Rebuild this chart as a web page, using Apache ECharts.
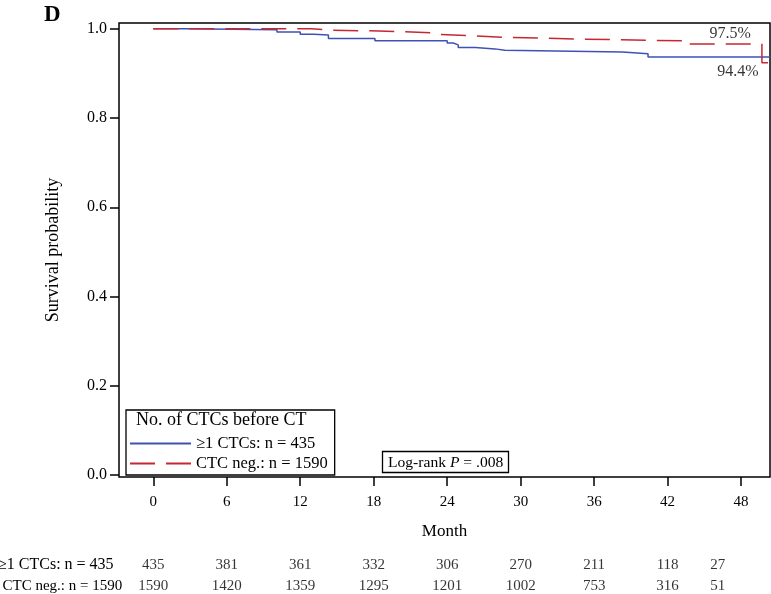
<!DOCTYPE html>
<html>
<head>
<meta charset="utf-8">
<script src="https://cdn.jsdelivr.net/npm/echarts@6/dist/echarts.min.js"></script>
<style>
html,body{margin:0;padding:0;background:#fff;}
#c{width:771px;height:594px;}
</style>
</head>
<body>
<div id="c"></div>
<script>
// ---- data ----
var seriesNames = ['\u22651 CTCs: n = 435', 'CTC neg.: n = 1590'];
// Kaplan-Meier steps [month, survival]
var kmPos = [[0,1.0],[2.6,0.998],[10.1,0.993],[12.0,0.988],[13.1,0.986],[14.3,0.978],[18.1,0.973],
  [24.0,0.968],[24.5,0.964],[24.9,0.958],[26.3,0.955],[27.9,0.952],[28.7,0.948],[38.3,0.944],[40.4,0.937],[50.4,0.937]];
var kmNeg = [[0,1.0],[12.9,0.997],[14.4,0.995],[18.4,0.991],[23.0,0.987],[23.5,0.985],[25.7,0.981],
  [28.5,0.977],[34.9,0.973],[43.2,0.966],[49.7,0.924],[50.4,0.924]];
var xTicks = [0,6,12,18,24,30,36,42,48];
var yTicks = [0,0.2,0.4,0.6,0.8,1.0];
var riskMonths = [0,6,12,18,24,30,36,42,46.1];
var riskPos = [435,381,361,332,306,270,211,118,27];
var riskNeg = [1590,1420,1359,1295,1201,1002,753,316,51];
var endLabels = [[47.1,0.988,'97.5%'],[47.75,0.903,'94.4%']];
var panelLabel = 'D';
var legendTitle = 'No. of CTCs before CT';
var pText = '.008';

var FONT = '"Liberation Serif","Times New Roman",serif';
var BLUE = '#3F51B5', RED = '#C62832';
var XMIN = -2.8, XMAX = 50.36, YMIN = -0.0045, YMAX = 1.013;

function riskData(arr,row){ return arr.map(function(v,i){ return [riskMonths[i], row, v]; }); }

var chart = echarts.init(document.getElementById('c'), null, {renderer:'canvas'});
chart.setOption({
  animation:false,
  backgroundColor:'#fff',
  textStyle:{fontFamily:FONT,color:'#000',fontWeight:'normal'},
  title:[
    {text:panelLabel,left:44,top:4,padding:0,textStyle:{fontFamily:FONT,fontWeight:'bold',fontSize:23,color:'#000'}},
    {text:legendTitle,left:136,top:411,padding:0,z:10,textStyle:{fontFamily:FONT,fontWeight:'normal',fontSize:18,color:'#000'}},
    {text:'{a|Log-rank }{i|P}{a| = '+pText+'}',left:382,top:451,padding:[3,5,2,6],borderColor:'#000',borderWidth:1.3,
     textStyle:{fontWeight:'normal',rich:{a:{fontFamily:FONT,fontSize:15.6,fontWeight:'normal',color:'#000',lineHeight:17},
       i:{fontFamily:FONT,fontSize:15.6,fontStyle:'italic',fontWeight:'normal',color:'#000',lineHeight:17}}}}
  ],
  legend:{
    orient:'vertical',left:126,top:410,padding:[25,7,3,3],itemWidth:61,itemHeight:16,itemGap:3,
    borderColor:'#000',borderWidth:1.3,backgroundColor:'#fff',
    itemStyle:{opacity:0},
    textStyle:{fontFamily:FONT,fontSize:16.5,fontWeight:'normal',color:'#000',lineHeight:16},
    data:seriesNames
  },
  grid:[
    {left:119,top:23,right:1,bottom:117,outerBoundsMode:'none',containLabel:false,show:true,borderColor:'#000',borderWidth:1.5,backgroundColor:'transparent'},
    {left:119,top:554,right:1,height:43,outerBoundsMode:'none',containLabel:false}
  ],
  xAxis:[
    {type:'value',gridIndex:0,min:XMIN,max:XMAX,
     axisLine:{show:false,onZero:false},splitLine:{show:false},
     axisTick:{show:true,customValues:xTicks,length:9,lineStyle:{color:'#000',width:1.5}},
     axisLabel:{customValues:xTicks,margin:18,fontFamily:FONT,fontSize:15,fontWeight:'normal',color:'#000'},
     name:'Month',nameLocation:'middle',nameGap:46,nameTextStyle:{fontFamily:FONT,fontSize:17,fontWeight:'normal',color:'#000'}},
    {type:'value',gridIndex:1,min:XMIN,max:XMAX,show:false}
  ],
  yAxis:[
    {type:'value',gridIndex:0,min:YMIN,max:YMAX,
     axisLine:{show:false,onZero:false},splitLine:{show:false},
     axisTick:{show:true,customValues:yTicks,length:9,lineStyle:{color:'#000',width:1.5}},
     axisLabel:{customValues:yTicks,margin:12,fontFamily:FONT,fontSize:16,fontWeight:'normal',color:'#000',formatter:function(v){return v.toFixed(1);}},
     name:'Survival probability',nameLocation:'middle',nameGap:57,nameTextStyle:{fontFamily:FONT,fontSize:18,fontWeight:'normal',color:'#000'}},
    {type:'category',gridIndex:1,inverse:true,data:seriesNames,
     axisLine:{show:false},axisTick:{show:false},
     axisLabel:{interval:0,hideOverlap:false,align:'left',margin:121,fontFamily:FONT,fontSize:15,color:'#000',
       formatter:function(v,i){ return i===1 ? '{p|'+v+'}' : '{q|'+v+'}'; },
       rich:{p:{fontFamily:FONT,fontSize:15,color:'#000',padding:[0,0,0,4.5]},q:{fontFamily:FONT,fontSize:16,color:'#000'}}}}
  ],
  series:[
    {name:seriesNames[0],type:'line',step:'end',data:kmPos,symbol:'none',clip:false,
     lineStyle:{color:BLUE,width:1.5},itemStyle:{color:BLUE},z:3},
    {name:seriesNames[1],type:'line',step:'end',data:kmNeg,symbol:'none',clip:false,
     lineStyle:{color:RED,width:1.5,type:[25,11]},itemStyle:{color:RED},z:4},
    {type:'scatter',data:endLabels,symbolSize:1,itemStyle:{color:'transparent'},silent:true,
     label:{show:true,position:'inside',formatter:function(p){return p.value[2];},fontFamily:FONT,fontSize:16,color:'#000'}},
    {type:'scatter',xAxisIndex:1,yAxisIndex:1,data:riskData(riskPos,0),symbolSize:1,itemStyle:{color:'transparent'},silent:true,
     label:{show:true,position:'inside',formatter:function(p){return p.value[2];},fontFamily:FONT,fontSize:15,color:'#000'}},
    {type:'scatter',xAxisIndex:1,yAxisIndex:1,data:riskData(riskNeg,1),symbolSize:1,itemStyle:{color:'transparent'},silent:true,
     label:{show:true,position:'inside',formatter:function(p){return p.value[2];},fontFamily:FONT,fontSize:15,color:'#000'}}
  ]
});
</script>
</body>
</html>
